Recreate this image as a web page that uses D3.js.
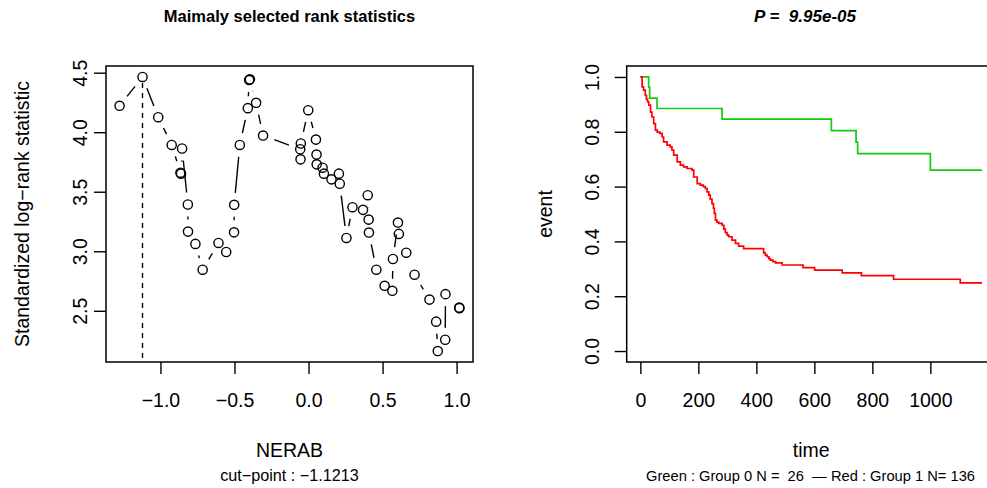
<!DOCTYPE html>
<html>
<head>
<meta charset="utf-8">
<script src="https://cdn.jsdelivr.net/npm/d3@7"></script>
<style>
  body { margin: 0; background: #fff; }
  text { font-family: "Liberation Sans", Arial, Helvetica, sans-serif; fill: #000; }
</style>
</head>
<body>
<svg id="mySvg" width="987" height="488"></svg>
<script>
// left panel: maximally selected rank statistics (NERAB vs standardized statistic)
var nerab = [-1.276, -1.121, -1.015, -0.924, -0.865, -0.861, -0.854, -0.815, -0.814, -0.764,
             -0.715, -0.608, -0.556, -0.503, -0.502, -0.464, -0.410, -0.401, -0.396, -0.354,
             -0.307, -0.056, -0.054, -0.052, -0.002, 0.050, 0.054, 0.055, 0.095, 0.104,
             0.155, 0.205, 0.211, 0.256, 0.297, 0.368, 0.400, 0.406, 0.408, 0.458,
             0.514, 0.566, 0.570, 0.604, 0.610, 0.660, 0.716, 0.817, 0.862, 0.873,
             0.923, 0.925, 1.018, 1.019];
var stat = [4.222, 4.464, 4.126, 3.893, 3.660, 3.652, 3.863, 3.393, 3.165, 3.062,
            2.845, 3.070, 2.994, 3.159, 3.390, 3.893, 4.202, 4.438, 4.444, 4.247,
            3.972, 3.857, 3.772, 3.905, 4.185, 3.938, 3.812, 3.730, 3.702, 3.652,
            3.604, 3.652, 3.567, 3.112, 3.370, 3.348, 3.471, 3.266, 3.157, 2.845,
            2.710, 2.668, 2.935, 3.241, 3.146, 2.988, 2.803, 2.594, 2.409, 2.162,
            2.257, 2.640, 2.527, 2.522];
var cutPoint = -1.1213;
var leftXTicks = [-1.0, -0.5, 0.0, 0.5, 1.0];
var leftYTicks = [2.5, 3.0, 3.5, 4.0, 4.5];

// right panel: survival curves for the two groups
var greenTime = [0, 28.6, 32, 57.6, 281.7, 658.6, 743.8, 749.3, 1000];
var greenSurv = [1, 0.962, 0.923, 0.885, 0.846, 0.804, 0.762, 0.72, 0.66];
var redTime = [0, 6, 11, 17, 21, 25, 29, 35, 40, 46, 52, 58, 67, 75, 80, 92, 103, 109, 115, 127,
               138, 149, 161, 178, 184, 196, 207, 217, 224, 230, 236, 241, 247, 252, 255, 259,
               264, 270, 282, 288, 293, 299, 305, 316, 328, 339, 356, 425, 431, 437, 443, 448,
               457, 466, 489, 561, 601, 696, 762, 873, 1103];
var redSurv = [1, 0.964, 0.952, 0.933, 0.918, 0.909, 0.897, 0.872, 0.854, 0.830, 0.806, 0.799,
               0.794, 0.781, 0.763, 0.751, 0.745, 0.733, 0.715, 0.690, 0.678, 0.672, 0.666, 0.660,
               0.635, 0.611, 0.605, 0.600, 0.593, 0.581, 0.569, 0.554, 0.538, 0.521, 0.502, 0.478,
               0.470, 0.466, 0.459, 0.445, 0.432, 0.423, 0.417, 0.405, 0.393, 0.383, 0.374, 0.358,
               0.350, 0.344, 0.337, 0.332, 0.326, 0.322, 0.314, 0.304, 0.295, 0.285, 0.275, 0.262,
               0.249];
var maxTime = 1178;
var rightXTicks = [0, 200, 400, 600, 800, 1000];
var rightYTicks = [0.0, 0.2, 0.4, 0.6, 0.8, 1.0];

var svg = d3.select("#mySvg");
var fmt1 = d3.format(".1f");
var tickFont = 19.5, labFont = 19.5, subFont = 16.2, mainFont = 16.5;

// R style 4% range extension
function extend(ext) {
    var pad = (ext[1] - ext[0]) * 0.04;
    return [ext[0] - pad, ext[1] + pad];
}

// ---------- left panel ----------
var L = {left: 106, right: 473, top: 66, bottom: 362};
var xL = d3.scaleLinear().domain(extend(d3.extent(nerab))).range([L.left, L.right]);
var yL = d3.scaleLinear().domain(extend(d3.extent(stat))).range([L.bottom, L.top]);

var pts = nerab.map(function(v, i) { return {x: xL(v), y: yL(stat[i])}; });

// type = "b": segments with gaps around the points
var gap = 12;
var segs = d3.pairs(pts).filter(function(p) {
    return Math.hypot(p[1].x - p[0].x, p[1].y - p[0].y) > 2 * gap;
});
svg.append("g").selectAll("line")
    .data(segs)
    .enter().append("line")
    .attr("x1", function(p) { var d = Math.hypot(p[1].x - p[0].x, p[1].y - p[0].y); return p[0].x + (p[1].x - p[0].x) * gap / d; })
    .attr("y1", function(p) { var d = Math.hypot(p[1].x - p[0].x, p[1].y - p[0].y); return p[0].y + (p[1].y - p[0].y) * gap / d; })
    .attr("x2", function(p) { var d = Math.hypot(p[1].x - p[0].x, p[1].y - p[0].y); return p[1].x - (p[1].x - p[0].x) * gap / d; })
    .attr("y2", function(p) { var d = Math.hypot(p[1].x - p[0].x, p[1].y - p[0].y); return p[1].y - (p[1].y - p[0].y) * gap / d; })
    .attr("stroke", "#000")
    .attr("stroke-width", 1.4);

svg.append("g").selectAll("circle")
    .data(pts)
    .enter().append("circle")
    .attr("cx", d => d.x)
    .attr("cy", d => d.y)
    .attr("r", 4.6)
    .attr("fill", "none")
    .attr("stroke", "#000")
    .attr("stroke-width", 1.4);

// cut-point
svg.append("line")
    .attr("x1", xL(cutPoint)).attr("x2", xL(cutPoint))
    .attr("y1", yL(d3.max(stat)) + 6).attr("y2", L.bottom)
    .attr("stroke", "#000")
    .attr("stroke-width", 1.4)
    .attr("stroke-dasharray", "5,5");

svg.append("g")
    .attr("transform", "translate(0," + L.bottom + ")")
    .call(d3.axisBottom(xL).tickValues(leftXTicks).tickSize(12).tickFormat(fmt1))
    .call(styleAxis)
    .selectAll("text").attr("dy", null).attr("y", 45).attr("font-size", tickFont);

svg.append("g")
    .attr("transform", "translate(" + L.left + ",0)")
    .call(d3.axisLeft(yL).tickValues(leftYTicks).tickSize(12).tickFormat(fmt1))
    .call(styleAxis)
    .call(rotateY, L.left - 19);

svg.append("rect")
    .attr("x", L.left).attr("y", L.top)
    .attr("width", L.right - L.left).attr("height", L.bottom - L.top)
    .attr("fill", "none").attr("stroke", "#000").attr("stroke-width", 1.5);

svg.append("text")
    .attr("x", (L.left + L.right) / 2).attr("y", 22)
    .attr("text-anchor", "middle").attr("font-size", mainFont).attr("font-weight", "bold")
    .text("Maimaly selected rank statistics");

svg.append("text")
    .attr("x", (L.left + L.right) / 2).attr("y", 457)
    .attr("text-anchor", "middle").attr("font-size", labFont)
    .text("NERAB");

svg.append("text")
    .attr("x", (L.left + L.right) / 2).attr("y", 481)
    .attr("text-anchor", "middle").attr("font-size", subFont)
    .text("cut\u2212point : \u22121.1213");

svg.append("text")
    .attr("transform", "translate(29," + (L.top + L.bottom) / 2 + ") rotate(-90)")
    .attr("text-anchor", "middle").attr("font-size", labFont)
    .text("Standardized log\u2212rank statistic");

// ---------- right panel ----------
var R = {left: 626.7, top: 66, bottom: 362};
var xDomR = extend([0, maxTime]);
var xR = d3.scaleLinear().domain(xDomR).range([R.left, R.left + (xDomR[1] - xDomR[0]) * 0.29]);
R.right = xR.range()[1];
var yR = d3.scaleLinear().domain(extend([0, 1])).range([R.bottom, R.top]);

var step = d3.line()
    .x(d => xR(d[0]))
    .y(d => yR(d[1]))
    .curve(d3.curveStepAfter);

function curveData(times, surv) {
    var out = times.map(function(t, i) { return [t, surv[i]]; });
    out.push([maxTime, surv[surv.length - 1]]);
    return out;
}

svg.append("path")
    .attr("d", step(curveData(greenTime, greenSurv)))
    .attr("fill", "none").attr("stroke", "#11cc11").attr("stroke-width", 1.7);

svg.append("path")
    .attr("d", step(curveData(redTime, redSurv)))
    .attr("fill", "none").attr("stroke", "#ff0000").attr("stroke-width", 1.7);

svg.append("g")
    .attr("transform", "translate(0," + R.bottom + ")")
    .call(d3.axisBottom(xR).tickValues(rightXTicks).tickSize(12).tickFormat(d3.format("d")))
    .call(styleAxis)
    .selectAll("text").attr("dy", null).attr("y", 45).attr("font-size", tickFont);

svg.append("g")
    .attr("transform", "translate(" + R.left + ",0)")
    .call(d3.axisLeft(yR).tickValues(rightYTicks).tickSize(12).tickFormat(fmt1))
    .call(styleAxis)
    .call(rotateY, R.left - 28);

svg.append("rect")
    .attr("x", R.left).attr("y", R.top)
    .attr("width", R.right - R.left).attr("height", R.bottom - R.top)
    .attr("fill", "none").attr("stroke", "#000").attr("stroke-width", 1.5);

svg.append("text")
    .attr("x", 805).attr("y", 22)
    .attr("text-anchor", "middle").attr("font-size", 17)
    .attr("font-weight", "bold").attr("font-style", "italic")
    .style("white-space", "pre")
    .text("P =  9.95e-05");

svg.append("text")
    .attr("x", (R.left + R.right) / 2).attr("y", 457)
    .attr("text-anchor", "middle").attr("font-size", labFont)
    .text("time");

svg.append("text")
    .attr("x", 810.5).attr("y", 481)
    .attr("text-anchor", "middle").attr("font-size", 14.7)
    .style("white-space", "pre")
    .text("Green : Group 0 N =  26  \u2014 Red : Group 1 N= 136");

svg.append("text")
    .attr("transform", "translate(552," + (R.top + R.bottom) / 2 + ") rotate(-90)")
    .attr("text-anchor", "middle").attr("font-size", labFont)
    .text("event");

function styleAxis(g) {
    g.select(".domain").remove();
    g.selectAll(".tick line").attr("stroke", "#000").attr("stroke-width", 1.4);
    g.selectAll("text").attr("font-family", null).attr("fill", "#000");
}

// R las = 0: y tick labels run parallel to the axis
function rotateY(g, xBase) {
    g.selectAll(".tick text")
        .attr("x", null).attr("dy", null).attr("y", null)
        .attr("font-size", tickFont)
        .attr("text-anchor", "middle")
        .attr("transform", function() {
            return "translate(" + (xBase - L.left + (xBase > 500 ? L.left - R.left : 0)) + ",0) rotate(-90)";
        });
}
</script>
</body>
</html>
